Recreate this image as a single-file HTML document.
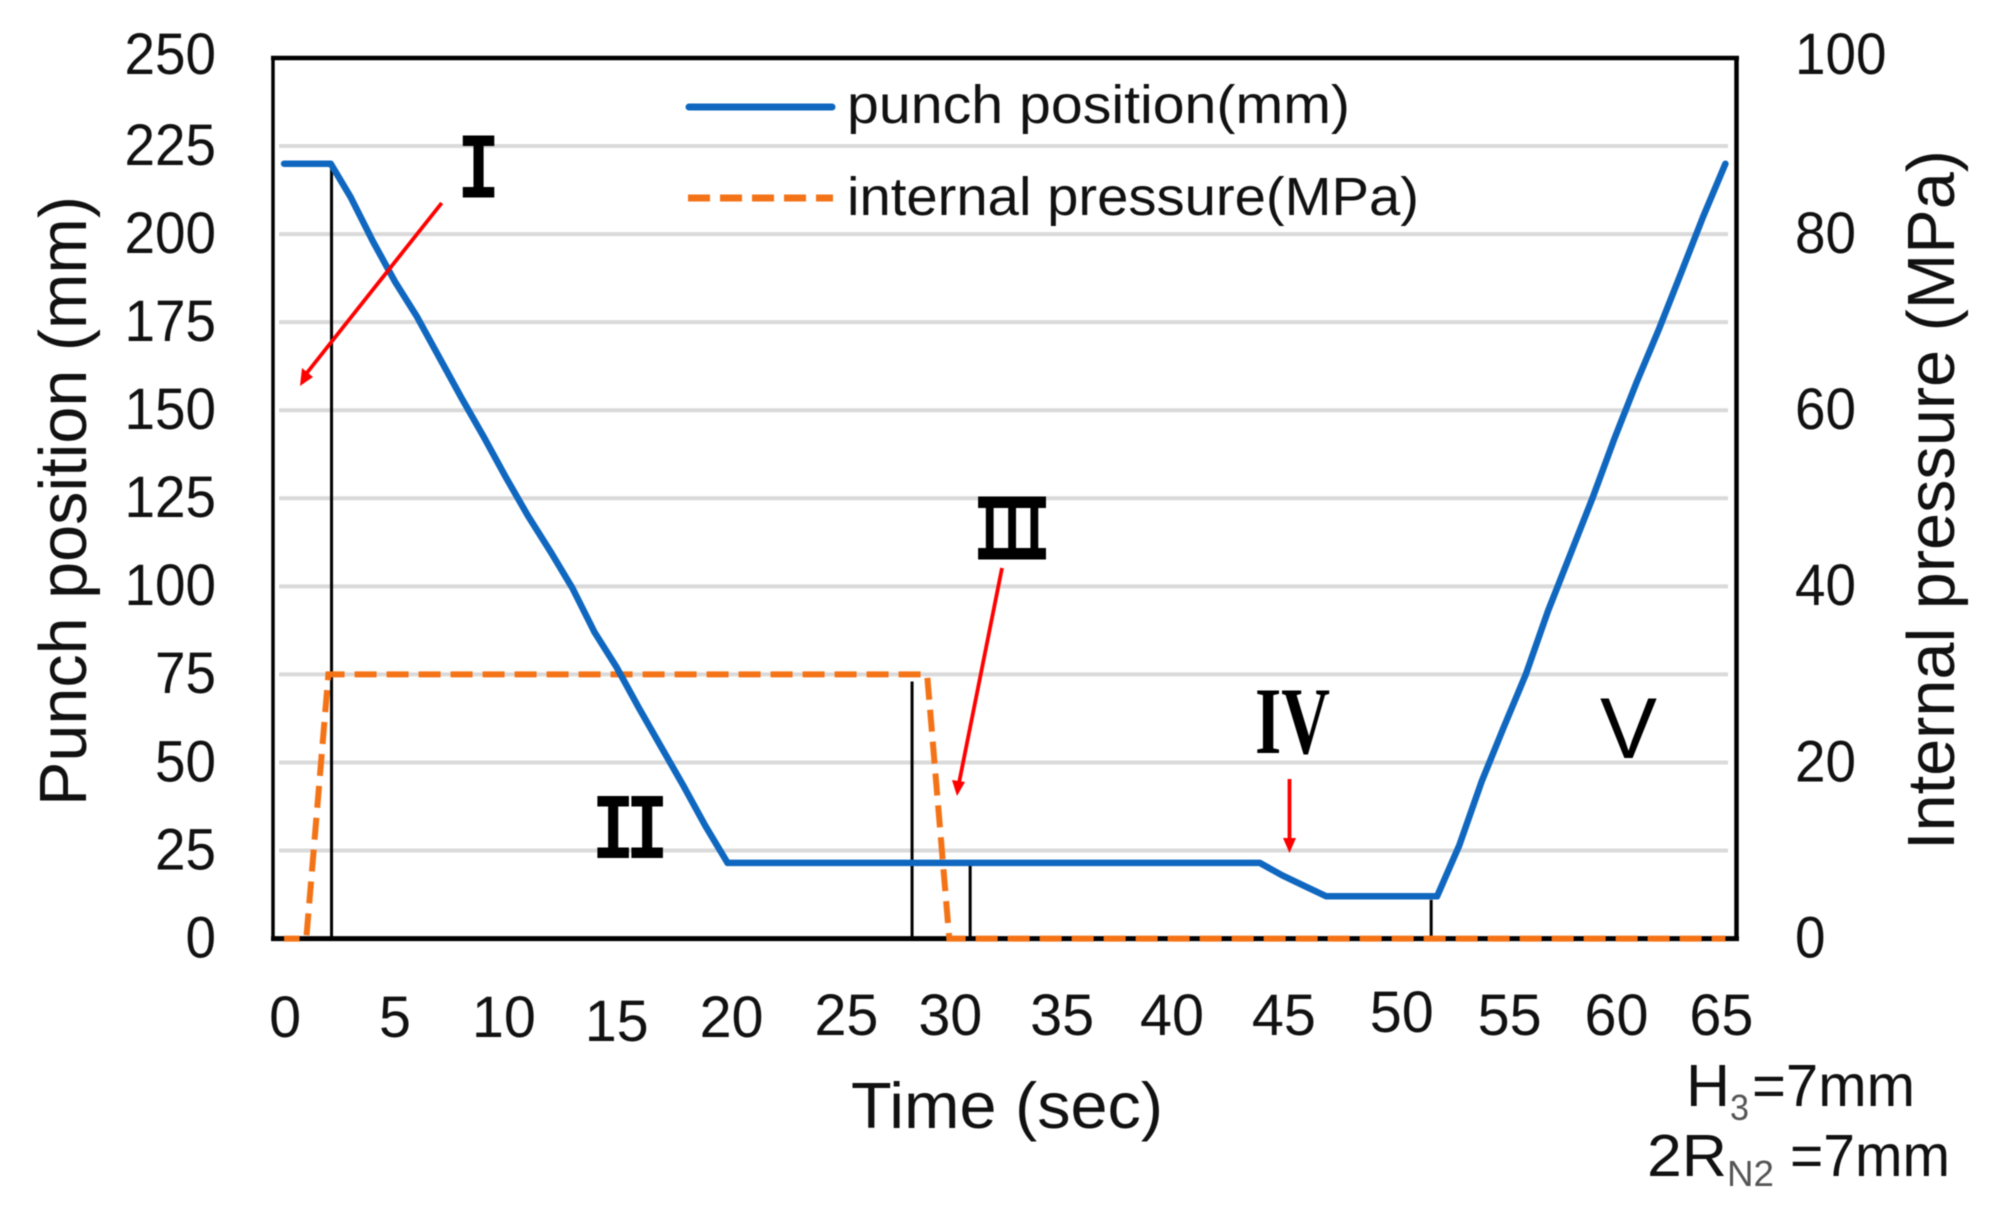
<!DOCTYPE html>
<html lang="en">
<head>
<meta charset="utf-8">
<title>Punch position and internal pressure over time</title>
<style>
html,body{margin:0;padding:0;background:#fff;}
svg{display:block;filter:blur(0.6px);}
text{font-family:"Liberation Sans",sans-serif;fill:#111;}
.roman{font-family:"Liberation Mono",monospace;font-weight:700;fill:#000;text-anchor:middle;}
.roman-serif{font-family:"Liberation Serif",serif;font-weight:700;fill:#000;}
</style>
</head>
<body>
<svg id="chart" xmlns="http://www.w3.org/2000/svg" width="2000" height="1225" viewBox="0 0 2000 1225">
  <rect x="0" y="0" width="2000" height="1225" fill="#fff"/>
  <g id="grid"></g>
  <g id="frame">
    <line x1="273" y1="56" x2="273" y2="941" stroke="#000" stroke-width="3.5"/>
    <line x1="1736.5" y1="56" x2="1736.5" y2="941" stroke="#000" stroke-width="4.5"/>
    <line x1="271" y1="58" x2="1739" y2="58" stroke="#000" stroke-width="4.5"/>
    <line x1="271" y1="938.6" x2="1739" y2="938.6" stroke="#000" stroke-width="5"/>
  </g>
  <g id="markers"></g>
  <path id="pressure-line" fill="none" stroke="#f47316" stroke-width="6" stroke-dasharray="22 10" stroke-dashoffset="6.5"/>
  <path id="punch-line" fill="none" stroke="#0f67bf" stroke-width="6.5" stroke-linejoin="round" stroke-linecap="round"/>
  <g id="left-ticks"></g>
  <g id="right-ticks"></g>
  <g id="x-ticks"></g>

  <text transform="translate(86,806) rotate(-90)" font-size="67" textLength="610" lengthAdjust="spacingAndGlyphs">Punch position (mm)</text>
  <text transform="translate(1954,850) rotate(-90)" font-size="67" textLength="700" lengthAdjust="spacingAndGlyphs">Internal pressure (MPa)</text>
  <text x="851" y="1128" font-size="65" textLength="312" lengthAdjust="spacingAndGlyphs">Time (sec)</text>

  <g>
    <line x1="689" y1="107" x2="832" y2="107" stroke="#0f67bf" stroke-width="7" stroke-linecap="round"/>
    <text x="847" y="123" font-size="54" textLength="503" lengthAdjust="spacingAndGlyphs">punch position(mm)</text>
    <line x1="688" y1="198" x2="833" y2="198" stroke="#f47316" stroke-width="7" stroke-dasharray="22 10"/>
    <text x="847" y="215" font-size="54" textLength="572" lengthAdjust="spacingAndGlyphs">internal pressure(MPa)</text>
  </g>

  <g>
    <text class="roman" transform="translate(478.5,197.5) scale(0.75,1)" font-size="94">I</text>
    <text class="roman" transform="translate(626,858) scale(0.75,1)" font-size="94" style="letter-spacing:-11px">II</text>
    <text class="roman" transform="translate(1008,559) scale(0.54,1)" font-size="94" style="letter-spacing:-15px" stroke="#000" stroke-width="1">III</text>
    <text class="roman-serif" x="1255" y="753" font-size="95" textLength="75" lengthAdjust="spacingAndGlyphs">IV</text>
    <text x="1600" y="758" font-size="86" textLength="57" lengthAdjust="spacingAndGlyphs" style="fill:#000">V</text>
  </g>

  <g>
    <line x1="441.7" y1="203" x2="306" y2="374" stroke="#f00" stroke-width="3.8"/>
    <polygon points="300,386 302,368 313,377" fill="#f00"/>
    <line x1="1002" y1="568" x2="959" y2="783" stroke="#f00" stroke-width="3.8"/>
    <polygon points="957,796 952,780 965,782" fill="#f00"/>
    <line x1="1289.5" y1="779" x2="1289.5" y2="842" stroke="#f00" stroke-width="3.8"/>
    <polygon points="1289.5,853 1283,838 1296,838" fill="#f00"/>
  </g>

  <g>
    <text x="1686" y="1106" font-size="59" textLength="44" lengthAdjust="spacingAndGlyphs">H</text>
    <text x="1730" y="1120" font-size="36" style="fill:#555" textLength="19" lengthAdjust="spacingAndGlyphs">3</text>
    <text x="1752" y="1106" font-size="59" textLength="163" lengthAdjust="spacingAndGlyphs">=7mm</text>
    <text x="1647" y="1176" font-size="59" textLength="80" lengthAdjust="spacingAndGlyphs">2R</text>
    <text x="1727" y="1186" font-size="36" style="fill:#555" textLength="47" lengthAdjust="spacingAndGlyphs">N2</text>
    <text x="1790" y="1176" font-size="59" textLength="160" lengthAdjust="spacingAndGlyphs">=7mm</text>
  </g>
</svg>
<script>
// Chart data
const punchTimes = [0, 2.1, 3, 4, 5, 6, 7, 8, 9, 10, 11, 12, 13, 14, 15, 16, 17, 18, 19, 20, 44, 45, 46, 47, 52, 53, 54, 55, 56, 57, 58, 59, 60, 61, 62, 63, 64, 65];
const punchPosition = [220, 220, 210.5, 198, 186.5, 176.5, 165, 153.5, 142.5, 131, 120, 110, 99.5, 87, 77, 65.5, 54.5, 43.5, 32, 21.5, 21.5, 18, 15, 12, 12, 26.5, 44.5, 60, 75, 93, 109, 125, 142, 158, 173, 189, 205, 220];
const pressureTimes = [0, 1, 2, 29, 30, 65];
const internalPressure = [0, 0, 30, 30, 0, 0];
const boundaryTimes = [2.14, 28.32, 30.94, 51.73];
const boundaryTopValues = [220, 73, 21, 11];
const leftTickValues = [0, 25, 50, 75, 100, 125, 150, 175, 200, 225, 250];
const rightTickValues = [0, 20, 40, 60, 80, 100];
const timeTickValues = [0, 5, 10, 15, 20, 25, 30, 35, 40, 45, 50, 55, 60, 65];

// Axis functions
const plot = {left: 273, right: 1736.5, top: 58, bottom: 938.6};
function xScale(t) { return plot.left + (t + 0.5) * (plot.right - plot.left) / 66; }
function yLeft(v) { return plot.bottom - v * (plot.bottom - plot.top) / 250; }
function yRight(v) { return plot.bottom - v * (plot.bottom - plot.top) / 100; }

// Hand-placed label offsets seen in the figure (layout only)
const layoutTimeLabelDx = {0: 1, 10: -2, 20: 4, 25: 8, 30: 1, 35: 2, 40: 1, 45: 2, 50: 9, 55: 6, 60: 2, 65: -4};
const layoutTimeLabelDy = {15: 4, 25: -2, 30: -2, 35: -2, 40: -2, 45: -2, 50: -5, 55: -2, 60: -2, 65: -2};

const NS = 'http://www.w3.org/2000/svg';
function linePath(xs, ys) {
  return xs.map(function (x, i) { return (i ? 'L' : 'M') + x.toFixed(1) + ' ' + ys[i].toFixed(1); }).join(' ');
}

document.getElementById('punch-line').setAttribute('d', linePath(punchTimes.map(xScale), punchPosition.map(yLeft)));
document.getElementById('pressure-line').setAttribute('d', linePath(pressureTimes.map(xScale), internalPressure.map(yRight)));

leftTickValues.forEach(function (v) {
  if (v === 0 || v === 250) return;
  const g = document.createElementNS(NS, 'line');
  
  
  g.setAttribute('x1', 279);
  g.setAttribute('x2', 1728);
  g.setAttribute('y1', yLeft(v));
  g.setAttribute('y2', yLeft(v));
  g.setAttribute('stroke', '#dadada');
  g.setAttribute('stroke-width', 4);
  document.getElementById('grid').appendChild(g);
});

boundaryTimes.forEach(function (t, i) {
  const m = document.createElementNS(NS, 'line');
  
  
  m.setAttribute('x1', xScale(t));
  m.setAttribute('x2', xScale(t));
  m.setAttribute('y1', yLeft(boundaryTopValues[i]));
  m.setAttribute('y2', plot.bottom);
  m.setAttribute('stroke', '#000');
  m.setAttribute('stroke-width', 3);
  document.getElementById('markers').appendChild(m);
});

function digitsWidth(v) { return String(v).length * 30.5; }

leftTickValues.forEach(function (v) {
  const t = document.createElementNS(NS, 'text');
  
  
  t.setAttribute('font-size', 58);
  t.setAttribute('textLength', digitsWidth(v));
  t.setAttribute('lengthAdjust', 'spacingAndGlyphs');
  t.setAttribute('x', 216 - digitsWidth(v));
  t.setAttribute('y', yLeft(v) + (v === 250 ? 16 : 18.8));
  t.textContent = v;
  document.getElementById('left-ticks').appendChild(t);
});

rightTickValues.forEach(function (v) {
  const t = document.createElementNS(NS, 'text');
  
  
  t.setAttribute('font-size', 58);
  t.setAttribute('textLength', digitsWidth(v));
  t.setAttribute('lengthAdjust', 'spacingAndGlyphs');
  t.setAttribute('x', 1795);
  t.setAttribute('y', yRight(v) + (v === 100 ? 16 : 18.8));
  t.textContent = v;
  document.getElementById('right-ticks').appendChild(t);
});

timeTickValues.forEach(function (v) {
  const w = String(v).length * 32;
  const t = document.createElementNS(NS, 'text');
  
  
  t.setAttribute('font-size', 58);
  t.setAttribute('textLength', w);
  t.setAttribute('lengthAdjust', 'spacingAndGlyphs');
  t.setAttribute('x', xScale(v) + (layoutTimeLabelDx[v] || 0) - w / 2);
  t.setAttribute('y', 1037 + (layoutTimeLabelDy[v] || 0));
  t.textContent = v;
  document.getElementById('x-ticks').appendChild(t);
});
</script>
</body>
</html>
